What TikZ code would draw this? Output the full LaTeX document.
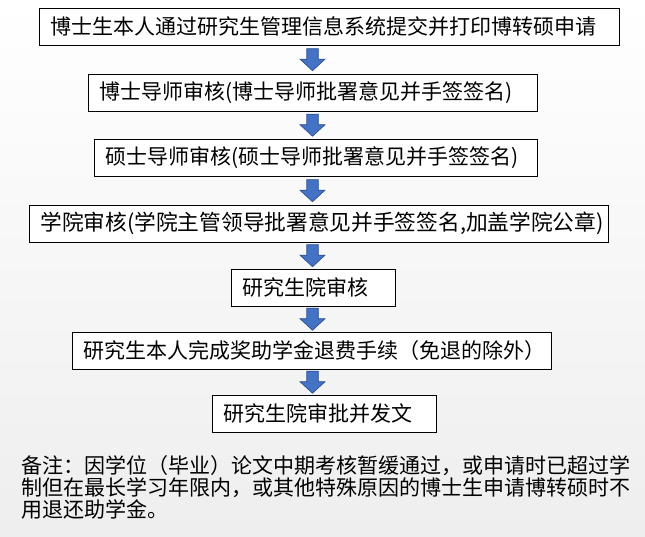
\documentclass[tikz,border=0pt]{standalone}
\usepackage{fontspec}
\setmainfont{Noto Sans CJK SC}
\usetikzlibrary{calc}
\definecolor{arrowblue}{RGB}{68,114,196}
\definecolor{arrowedge}{RGB}{47,82,143}
\definecolor{bggray}{RGB}{238,238,238}
\tikzset{
  stepbox/.style={draw=black, fill=white, line width=0.9pt, anchor=north west, minimum height=36.5pt, inner xsep=11pt, inner ysep=0pt, align=left, text width=#1, font=\fontsize{21}{25}\selectfont},
  flowarrow/.style={fill=arrowblue, draw=arrowedge, line width=0.7pt, line join=miter}
}
\newcommand{\flowarrow}[2]{%
  \draw[flowarrow] let \p1=($(#1.south)!.5!(#2.north)$), \p2=(axis) in
    (\x2-5.75pt,\y1+11pt) -- (\x2+5.75pt,\y1+11pt) -- (\x2+5.75pt,\y1+0.5pt) -- (\x2+12.5pt,\y1+0.5pt)
    -- (\x2,\y1-11pt) -- (\x2-12.5pt,\y1+0.5pt) -- (\x2-5.75pt,\y1+0.5pt) -- cycle;}
\begin{document}
\begin{tikzpicture}[x=1pt, y=-1pt]
\shade[top color=white, bottom color=bggray] (0,0) rectangle (645,536);
\useasboundingbox (0,0) rectangle (645,536);
\coordinate (axis) at (312.5,0);
\node[stepbox=558pt] (apply) at (39,8) {博士生本人通过研究生管理信息系统提交并打印博转硕申请};
\node[stepbox=427pt] (phdsup) at (88,74) {博士导师审核(博士导师批署意见并手签签名)};
\node[stepbox=421pt] (mssup) at (94,139) {硕士导师审核(硕士导师批署意见并手签签名)};
\node[stepbox=557pt, font=\fontsize{21.7}{25}\selectfont] (school) at (29,205) {学院审核(学院主管领导批署意见并手签签名,加盖学院公章)};
\node[stepbox=142pt] (grad) at (231,269) {研究生院审核};
\node[stepbox=457pt] (refund) at (72,332) {研究生本人完成奖助学金退费手续（免退的除外）};
\node[stepbox=202pt] (approve) at (212,395) {研究生院审批并发文};
\flowarrow{apply}{phdsup}
\flowarrow{phdsup}{mssup}
\flowarrow{mssup}{school}
\flowarrow{school}{grad}
\flowarrow{grad}{refund}
\flowarrow{refund}{approve}
\node[anchor=north west, inner sep=0pt, align=left, text width=620pt, font=\fontsize{21}{22}\selectfont] (note) at (21,455) {备注：因学位（毕业）论文中期考核暂缓通过，或申请时已超过学\\制但在最长学习年限内，或其他特殊原因的博士生申请博转硕时不\\用退还助学金。};
\end{tikzpicture}
\end{document}
